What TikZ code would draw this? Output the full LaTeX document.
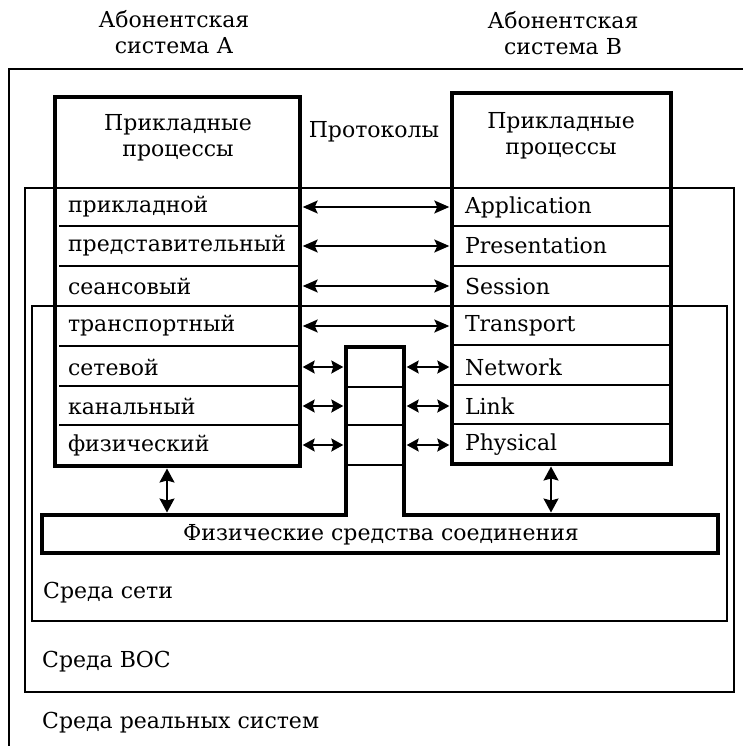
\documentclass[tikz,border=0pt]{standalone}
\usepackage{fontspec}
\setmainfont{DejaVu Serif}
\usetikzlibrary{arrows.meta}
\begin{document}
\begin{tikzpicture}[x=1pt,y=-1pt,
  thinln/.style={line width=1.8pt},
  heavy/.style={line width=4.5pt},
  txt/.style={font=\fontsize{22}{26}\selectfont, inner sep=0pt, align=center},
  envtxt/.style={font=\fontsize{22}{26}\selectfont, inner sep=0pt, anchor=west},
  lrow/.style={font=\fontsize{22}{26}\selectfont, minimum width=245pt, minimum height=40pt,
    inner xsep=13pt, inner ysep=0pt, text width=219pt, align=left},
  rrow/.style={font=\fontsize{22}{26}\selectfont, minimum width=219pt, minimum height=40pt,
    inner xsep=13pt, inner ysep=0pt, text width=193pt, align=left},
  cell/.style={minimum width=58pt, minimum height=39pt, inner sep=0pt},
  lng/.style={line width=1.5pt, {Stealth[length=15pt,width=13pt,inset=3pt]}-{Stealth[length=15pt,width=13pt,inset=3pt]},
    shorten <=2.5pt, shorten >=2.5pt},
  shrt/.style={line width=2pt, {Stealth[length=12pt,width=13pt,inset=2pt]}-{Stealth[length=12pt,width=13pt,inset=2pt]},
    shorten <=2.5pt, shorten >=2.5pt},
  vrt/.style={line width=1.8pt, {Stealth[length=14pt,width=15pt,inset=2pt]}-{Stealth[length=14pt,width=15pt,inset=2pt]},
    shorten <=2.5pt, shorten >=2.5pt},
]
\useasboundingbox (0,0) rectangle (742,746);

% environment frames
\draw[thinln] (9,69) rectangle (760,760);
\draw[thinln] (25,188) rectangle (734,692);
\draw[thinln] (32,306) rectangle (727,621);

% subscriber system A
\draw[heavy] (55,97) rectangle (300,466);
\foreach \y in {188,226,266,306,346,386,425}
  \draw[thinln] (59,\y) -- (298,\y);
% subscriber system B
\draw[heavy] (452,93) rectangle (671,464);
\foreach \y in {188,226,266,306,345,385,424}
  \draw[thinln] (454,\y) -- (669,\y);

% physical media with the relay column
\draw[heavy] (42,515) -- (346,515) -- (346,347) -- (404,347) -- (404,515)
  -- (718,515) -- (718,553) -- (42,553) -- cycle;
\foreach \y in {387,425,465}
  \draw[thinln] (348,\y) -- (402,\y);

% labels
\node[txt] (tA) at (174,32) {Абонентская\\система А};
\node[txt] (tB) at (563,33) {Абонентская\\система В};
\node[txt] (hA) at (178,137.5) {Прикладные\\процессы};
\node[txt] (hB) at (561,135.5) {Прикладные\\процессы};
\node[txt] (prot) at (374,132) {Протоколы};

% layers of system A
\node[lrow] (L1) at (177.5,207) {прикладной};
\node[lrow] (L2) at (177.5,246) {представительный};
\node[lrow] (L3) at (177.5,286) {сеансовый};
\node[lrow] (L4) at (177.5,326) {транспортный};
\node[lrow] (L5) at (177.5,367) {сетевой};
\node[lrow] (L6) at (177.5,406) {канальный};
\node[lrow] (L7) at (177.5,445) {физический};

% layers of system B
\node[rrow] (R1) at (561.5,207) {Application};
\node[rrow] (R2) at (561.5,246) {Presentation};
\node[rrow] (R3) at (561.5,286) {Session};
\node[rrow] (R4) at (561.5,326) {Transport};
\node[rrow] (R5) at (561.5,367) {Network};
\node[rrow] (R6) at (561.5,406) {Link};
\node[rrow] (R7) at (561.5,445) {Physical};

% relay cells
\node[cell] (M1) at (375,367) {};
\node[cell] (M2) at (375,406) {};
\node[cell] (M3) at (375,445) {};

\node[txt] (phys) at (381,535) {Физические средства соединения};

\node[envtxt] (eN) at (43,592.5) {Среда сети};
\node[envtxt] (eO) at (42,662) {Среда ВОС};
\node[envtxt] (eR) at (42,722.5) {Среда реальных систем};

% peer protocols
\foreach \i in {1,2,3,4}
  \draw[lng] (L\i.east) -- (R\i.west);
\foreach \i/\m in {5/1,6/2,7/3} {
  \draw[shrt] (L\i.east) -- (M\m.west);
  \draw[shrt] (M\m.east) -- (R\i.west);
}

% access to the physical media
\coordinate (aA) at (167,466);
\coordinate (bA) at (167,515);
\coordinate (aB) at (551,464);
\coordinate (bB) at (551,515);
\draw[vrt] (aA) -- (bA);
\draw[vrt] (aB) -- (bB);
\end{tikzpicture}
\end{document}
